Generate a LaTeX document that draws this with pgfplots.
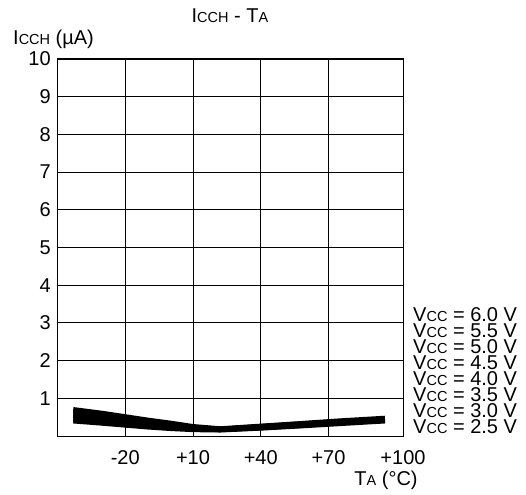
\documentclass[border=0pt]{standalone}
\usepackage{fontspec}
\setmainfont{Liberation Sans}
\usepackage{pgfplots}
\pgfplotsset{compat=1.18}
\pgfplotsset{vcc/.style={black, solid, line width=3.6pt, line join=round, line cap=butt, mark=none}}
% small caps-like subscript letters used in the part names
\newcommand{\sm}[1]{{\fontsize{14.5}{14.5}\selectfont #1}}
\begin{document}
\fontsize{20}{20}\selectfont
\begin{tikzpicture}
\useasboundingbox (-57.5pt,-58pt) rectangle (468.5pt,436pt);
\begin{axis}[
    at={(0pt,0pt)}, anchor=south west,
    scale only axis,
    width=345.5pt, height=377pt,
    xmin=-50, xmax=103,
    ymin=0, ymax=10,
    xtick={-20,10,40,70,103},
    xticklabels={-20,+10,+40,+70,+100},
    ytick={1,2,3,4,5,6,7,8,9,10},
    grid=major,
    major grid style={black, line width=0.9pt},
    major tick length=0pt,
    axis line style={line width=1pt},
    xticklabel style={anchor=center, yshift=-22pt},
    tick label style={font=\fontsize{20}{20}\selectfont},
    /pgf/number format/assume math mode=true,
]
% Vcc = 2.5 V
\addplot[vcc] coordinates {(-43,0.38) (-30,0.32) (-20,0.27) (-10,0.22) (0,0.18) (10,0.15) (22,0.14) (40,0.19) (58,0.25) (75,0.31) (95,0.38)};
% 3.0 V
\addplot[vcc] coordinates {(-43,0.43) (-30,0.36) (-20,0.31) (-10,0.25) (0,0.21) (10,0.17) (22,0.15) (40,0.20) (58,0.26) (75,0.33) (95,0.40)};
% 3.5 V
\addplot[vcc] coordinates {(-43,0.48) (-30,0.41) (-20,0.34) (-10,0.28) (0,0.23) (10,0.18) (22,0.16) (40,0.22) (58,0.28) (75,0.34) (95,0.41)};
% 4.0 V
\addplot[vcc] coordinates {(-43,0.53) (-30,0.45) (-20,0.38) (-10,0.31) (0,0.26) (10,0.20) (22,0.17) (40,0.23) (58,0.29) (75,0.36) (95,0.43)};
% 4.5 V
\addplot[vcc] coordinates {(-43,0.57) (-30,0.49) (-20,0.42) (-10,0.35) (0,0.28) (10,0.22) (22,0.18) (40,0.24) (58,0.31) (75,0.37) (95,0.44)};
% 5.0 V
\addplot[vcc] coordinates {(-43,0.62) (-30,0.53) (-20,0.46) (-10,0.38) (0,0.31) (10,0.24) (22,0.19) (40,0.25) (58,0.32) (75,0.39) (95,0.46)};
% 5.5 V
\addplot[vcc] coordinates {(-43,0.67) (-30,0.58) (-20,0.49) (-10,0.41) (0,0.33) (10,0.25) (22,0.20) (40,0.27) (58,0.34) (75,0.40) (95,0.47)};
% 6.0 V
\addplot[vcc] coordinates {(-43,0.72) (-30,0.62) (-20,0.53) (-10,0.44) (0,0.36) (10,0.27) (22,0.21) (40,0.28) (58,0.35) (75,0.42) (95,0.49)};
\end{axis}
\node at (230pt-57.5pt,420pt) {I\sm{CCH} - T\sm{A}};
\node[anchor=west, inner sep=0pt] at (-44.5pt,397pt) {I\sm{CCH} (µA)};
\node at (328.5pt,-44pt) {T\sm{A} (°C)};
\foreach \v [count=\k from 0] in {6.0,5.5,5.0,4.5,4.0,3.5,3.0,2.5}
  \node[anchor=west, inner sep=0pt] at (355.5pt,121pt-16*\k pt) {V\sm{CC} = \v\ V};
\end{tikzpicture}
\end{document}
